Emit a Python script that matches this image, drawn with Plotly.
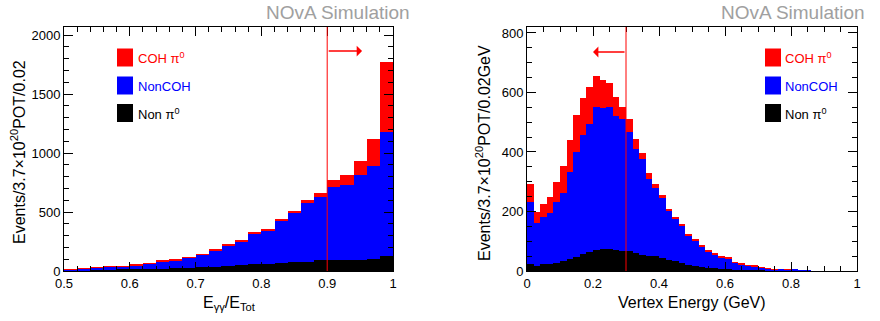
import plotly.graph_objects as go

# ---------------- data: left panel (E_gg / E_tot), 0.02 bins from 0.5 to 1.0
bin_width_l = 0.02
centers_l = [round(0.51 + 0.02 * i, 2) for i in range(25)]
non_pi0_l = [4, 6, 8, 12, 14, 16, 18, 21, 24, 28, 32, 37, 43, 50, 56, 60, 65, 75, 80, 92,
             95, 90, 95, 100, 125]
noncoh_l = [10, 16, 20, 27, 26, 34, 43, 63, 67, 86, 107, 139, 171, 196, 263, 283, 367, 414,
            496, 535, 614, 642, 716, 790, 1050]
coh_l = [1, 1, 1, 1, 1, 2, 2, 2, 3, 3, 4, 6, 8, 11, 11, 10, 11, 17, 23, 31, 59, 79, 124, 226,
         599]

# ---------------- data: right panel (vertex energy), 0.02 GeV bins from 0 to 1
bin_width_r = 0.02
centers_r = [round(0.01 + 0.02 * i, 2) for i in range(50)]
non_pi0_r = [23, 17, 22, 22, 26, 34, 39, 46, 58, 64, 72, 73, 73, 71, 67, 66, 59, 54, 50, 49,
             43, 36, 33, 28, 20, 17, 15, 11, 10, 8, 6, 5, 4, 3, 3, 2, 2, 1, 1, 1,
             1, 0, 0, 0, 0, 0, 0, 0, 0, 0]
blue_top_r = [233, 160, 183, 196, 231, 262, 334, 399, 457, 494, 550, 549, 550, 522, 510, 468,
              410, 375, 310, 280, 246, 200, 175, 152, 119, 104, 82, 66, 55, 47, 43, 29, 22,
              19, 16, 12, 8, 6, 6, 4.5, 4, 2, 1, 0, 0, 0, 0, 0, 0, 0]
red_top_r = [293, 198, 225, 249, 299, 354, 441, 523, 583, 620, 657, 641, 631, 586, 550, 510,
             443, 398, 329, 293, 255, 207, 183, 159, 123, 109, 85, 71, 58, 49, 45, 30, 25,
             20, 17, 13, 9, 6.5, 6, 5, 4, 2, 1, 0, 0, 0, 0, 0, 0, 0]
noncoh_r = [b - k for b, k in zip(blue_top_r, non_pi0_r)]
coh_r = [r - b for r, b in zip(red_top_r, blue_top_r)]

cut_l = 0.9
cut_r = 0.3
series_names = ["Non π<sup>0</sup>", "NonCOH", "COH π<sup>0</sup>"]
series_colors = ["#000000", "#0000ff", "#ff0000"]

W, H = 880, 321
FONT = "Liberation Sans, Arial, Helvetica, sans-serif"


def px_x(p):
    return p / W


def px_y(p):
    return 1 - p / H


fig = go.Figure()
for vals_l, vals_r, name, col in zip([non_pi0_l, noncoh_l, coh_l],
                                     [non_pi0_r, noncoh_r, coh_r],
                                     series_names, series_colors):
    fig.add_trace(go.Bar(x=centers_l, y=vals_l, width=bin_width_l, name=name,
                         marker=dict(color=col, line=dict(width=0)),
                         xaxis="x", yaxis="y", showlegend=False))
    fig.add_trace(go.Bar(x=centers_r, y=vals_r, width=bin_width_r, name=name,
                         marker=dict(color=col, line=dict(width=0)),
                         xaxis="x2", yaxis="y2", showlegend=False))

axis_common = dict(showline=True, linecolor="black", linewidth=1, mirror="ticks",
                   ticks="inside", ticklen=9, tickcolor="black", tickwidth=1,
                   showgrid=False, zeroline=False, automargin=False,
                   tickfont=dict(family=FONT, size=13, color="black"))

ydom = [px_y(271), px_y(27)]
fig.update_layout(
    width=W, height=H, margin=dict(l=0, r=0, t=0, b=0, autoexpand=False),
    paper_bgcolor="white", plot_bgcolor="white",
    barmode="stack", bargap=0,
    font=dict(family=FONT, color="black"),
    xaxis=dict(axis_common, domain=[px_x(64), px_x(393)], range=[0.5, 1], tick0=0.5,
               dtick=0.1, anchor="y",
               minor=dict(dtick=0.02, ticklen=5, ticks="inside", tickcolor="black")),
    yaxis=dict(axis_common, domain=ydom, range=[0, 2068], dtick=500, anchor="x",
               minor=dict(dtick=100, ticklen=5, ticks="inside", tickcolor="black")),
    xaxis2=dict(axis_common, domain=[px_x(527), px_x(857)], range=[0, 1], tick0=0,
                dtick=0.2, anchor="y2",
                minor=dict(dtick=0.05, ticklen=5, ticks="inside", tickcolor="black")),
    yaxis2=dict(axis_common, domain=ydom, range=[0, 820], dtick=200, anchor="x2",
                minor=dict(dtick=50, ticklen=5, ticks="inside", tickcolor="black")),
)

shapes = []
annotations = []

# cut lines
shapes.append(dict(type="line", xref="x", yref="y domain", x0=cut_l, x1=cut_l, y0=0, y1=1,
                   line=dict(color="red", width=1)))
shapes.append(dict(type="line", xref="x2", yref="y2 domain", x0=cut_r, x1=cut_r, y0=0, y1=1,
                   line=dict(color="red", width=1)))
annotations.append(dict(xref="x", yref="y", axref="x", ayref="y", x=0.953, y=1864,
                        ax=cut_l, ay=1864, text="", showarrow=True, arrowhead=1,
                        arrowsize=1.2, arrowwidth=1.5, arrowcolor="red"))
annotations.append(dict(xref="x2", yref="y2", axref="x2", ayref="y2", x=0.2, y=736,
                        ax=cut_r, ay=736, text="", showarrow=True, arrowhead=1,
                        arrowsize=1.2, arrowwidth=1.5, arrowcolor="red"))

# legends (manual, ROOT style)
legend_rows = [(48.5, 66.5, 58, "COH π<sup>0</sup>", "#ff0000"),
               (76.5, 94.5, 86, "NonCOH", "#0000ff"),
               (104, 122, 114, "Non π<sup>0</sup>", "#000000")]
for bx0, tx in [(117, 136), (765, 783)]:
    for y0, y1, yc, txt, col in legend_rows:
        shapes.append(dict(type="rect", xref="paper", yref="paper",
                           x0=px_x(bx0), x1=px_x(bx0 + 16), y0=px_y(y1), y1=px_y(y0),
                           fillcolor=col, line=dict(width=0)))
        annotations.append(dict(xref="paper", yref="paper", x=px_x(tx), y=px_y(yc),
                                xanchor="left", yanchor="middle", showarrow=False,
                                text=txt, font=dict(family=FONT, size=13, color=col)))

# axis titles
annotations.append(dict(xref="paper", yref="paper", x=px_x(18), y=px_y(152),
                        text="Events/3.7×10<sup>20</sup>POT/0.02", textangle=-90,
                        showarrow=False, xanchor="center", yanchor="middle",
                        font=dict(family=FONT, size=16, color="black")))
annotations.append(dict(xref="paper", yref="paper", x=px_x(483), y=px_y(153),
                        text="Events/3.7×10<sup>20</sup>POT/0.02GeV", textangle=-90,
                        showarrow=False, xanchor="center", yanchor="middle",
                        font=dict(family=FONT, size=16, color="black")))
annotations.append(dict(xref="paper", yref="paper", x=px_x(229), y=px_y(303),
                        text="E<sub>γγ</sub>/E<sub>Tot</sub>", showarrow=False,
                        xanchor="center", yanchor="middle",
                        font=dict(family=FONT, size=16, color="black")))
annotations.append(dict(xref="paper", yref="paper", x=px_x(692), y=px_y(302),
                        text="Vertex Energy (GeV)", showarrow=False,
                        xanchor="center", yanchor="middle",
                        font=dict(family=FONT, size=16, color="black")))

# NOvA Simulation tags
for xr in [412, 867]:
    annotations.append(dict(xref="paper", yref="paper", x=px_x(xr), y=px_y(12),
                            text="NOvA Simulation", showarrow=False,
                            xanchor="right", yanchor="middle",
                            font=dict(family=FONT, size=19, color="#a0a0a0")))

fig.update_layout(shapes=shapes, annotations=annotations)
fig.write_html("out.html")
